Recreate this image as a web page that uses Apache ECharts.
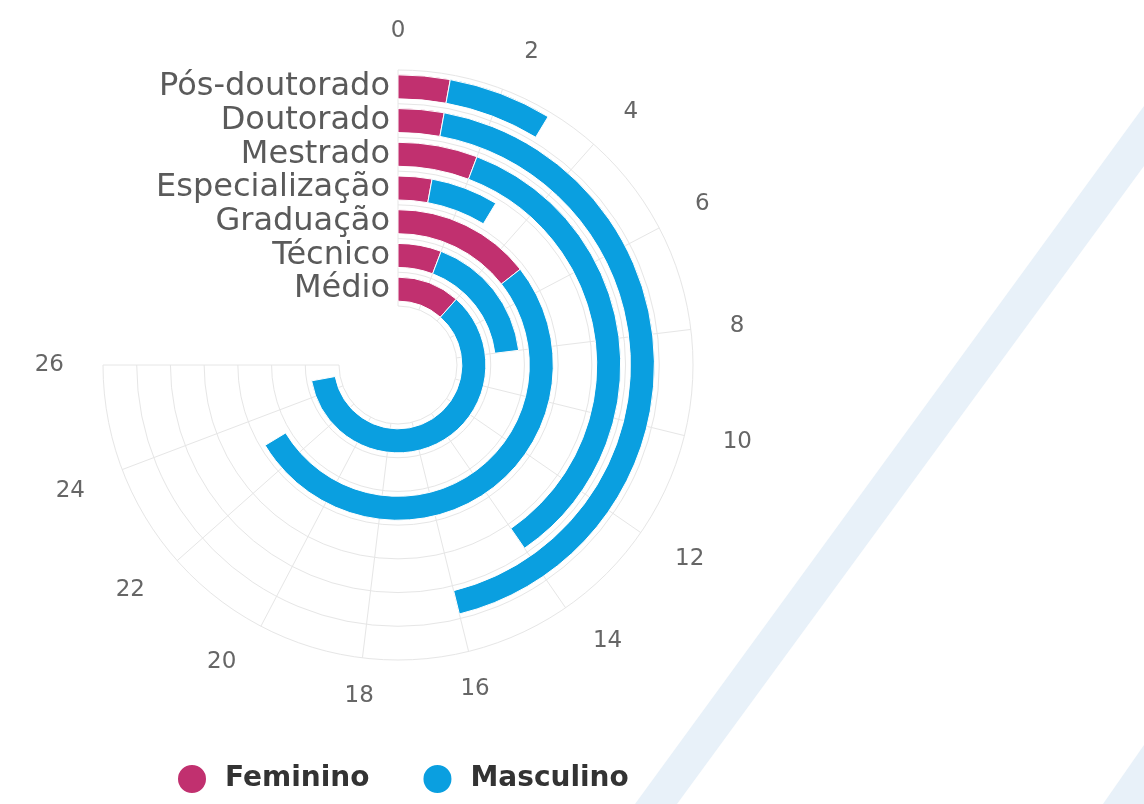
<!DOCTYPE html>
<html>
<head>
<meta charset="utf-8">
<script src="https://cdn.jsdelivr.net/npm/echarts@6/dist/echarts.min.js"></script>
<style>
  html, body { margin: 0; padding: 0; background: #fff; }
  #chart { width: 1144px; height: 804px; }
</style>
</head>
<body>
<div id="chart"></div>
<script>
// níveis de escolaridade (de dentro para fora)
const categories = ['Médio', 'Técnico', 'Graduação', 'Especialização', 'Mestrado', 'Doutorado', 'Pós-doutorado'];
const feminino = [4, 2, 5, 1, 2, 1, 1];
const masculino = [21, 6, 18, 2, 12, 15, 2];
const seriesNames = ['Feminino', 'Masculino'];
const angleTicks = { min: 0, max: 26, interval: 2 };

const chart = echarts.init(document.getElementById('chart'));

const option = {
  backgroundColor: '#fff',
  animation: false,
  textStyle: { fontFamily: 'DejaVu Sans' },
  color: ['#c1306f', '#0a9fe0'],
  // faixas decorativas do fundo
  graphic: [
    {
      type: 'polygon', z: -10, silent: true,
      shape: { points: [[635, 804], [677, 804], [1144, 166], [1144, 106]] },
      style: { fill: '#e8f1f9' }
    },
    {
      type: 'polygon', z: -10, silent: true,
      shape: { points: [[1103, 804], [1144, 804], [1144, 745]] },
      style: { fill: '#e8f1f9' }
    }
  ],
  polar: {
    center: [398, 365],
    radius: [59, 295]
  },
  angleAxis: {
    type: 'value',
    min: angleTicks.min,
    max: angleTicks.max,
    interval: angleTicks.interval,
    startAngle: 90,
    endAngle: -180,
    clockwise: true,
    axisLine: { show: false },
    axisTick: { show: false },
    splitLine: { show: true, lineStyle: { color: '#e6e6e6', width: 1 } },
    axisLabel: { fontSize: 23, color: '#666', margin: 27, padding: [0, 12, 0, 12] }
  },
  radiusAxis: {
    type: 'category',
    data: categories,
    axisLine: { show: false },
    axisTick: { show: false },
    splitLine: { show: true, interval: 0, lineStyle: { color: '#e6e6e6', width: 1 } },
    axisLabel: { interval: 0, fontSize: 32, color: '#5a5a5a', margin: 8 }
  },
  legend: {
    data: seriesNames,
    left: 171,
    top: 758,
    icon: 'circle',
    itemWidth: 30,
    itemHeight: 30,
    itemGap: 52,
    textStyle: { fontSize: 28, fontWeight: 'bold', color: '#333', padding: [0, 0, 0, 13] }
  },
  series: [
    {
      name: seriesNames[0],
      type: 'bar',
      coordinateSystem: 'polar',
      stack: 'total',
      barWidth: 24,
      data: feminino,
      itemStyle: { borderColor: '#fff', borderWidth: 1 }
    },
    {
      name: seriesNames[1],
      type: 'bar',
      coordinateSystem: 'polar',
      stack: 'total',
      barWidth: 24,
      data: masculino,
      itemStyle: { borderColor: '#fff', borderWidth: 1 }
    }
  ]
};

chart.setOption(option);
window.addEventListener('resize', () => chart.resize());
</script>
</body>
</html>
